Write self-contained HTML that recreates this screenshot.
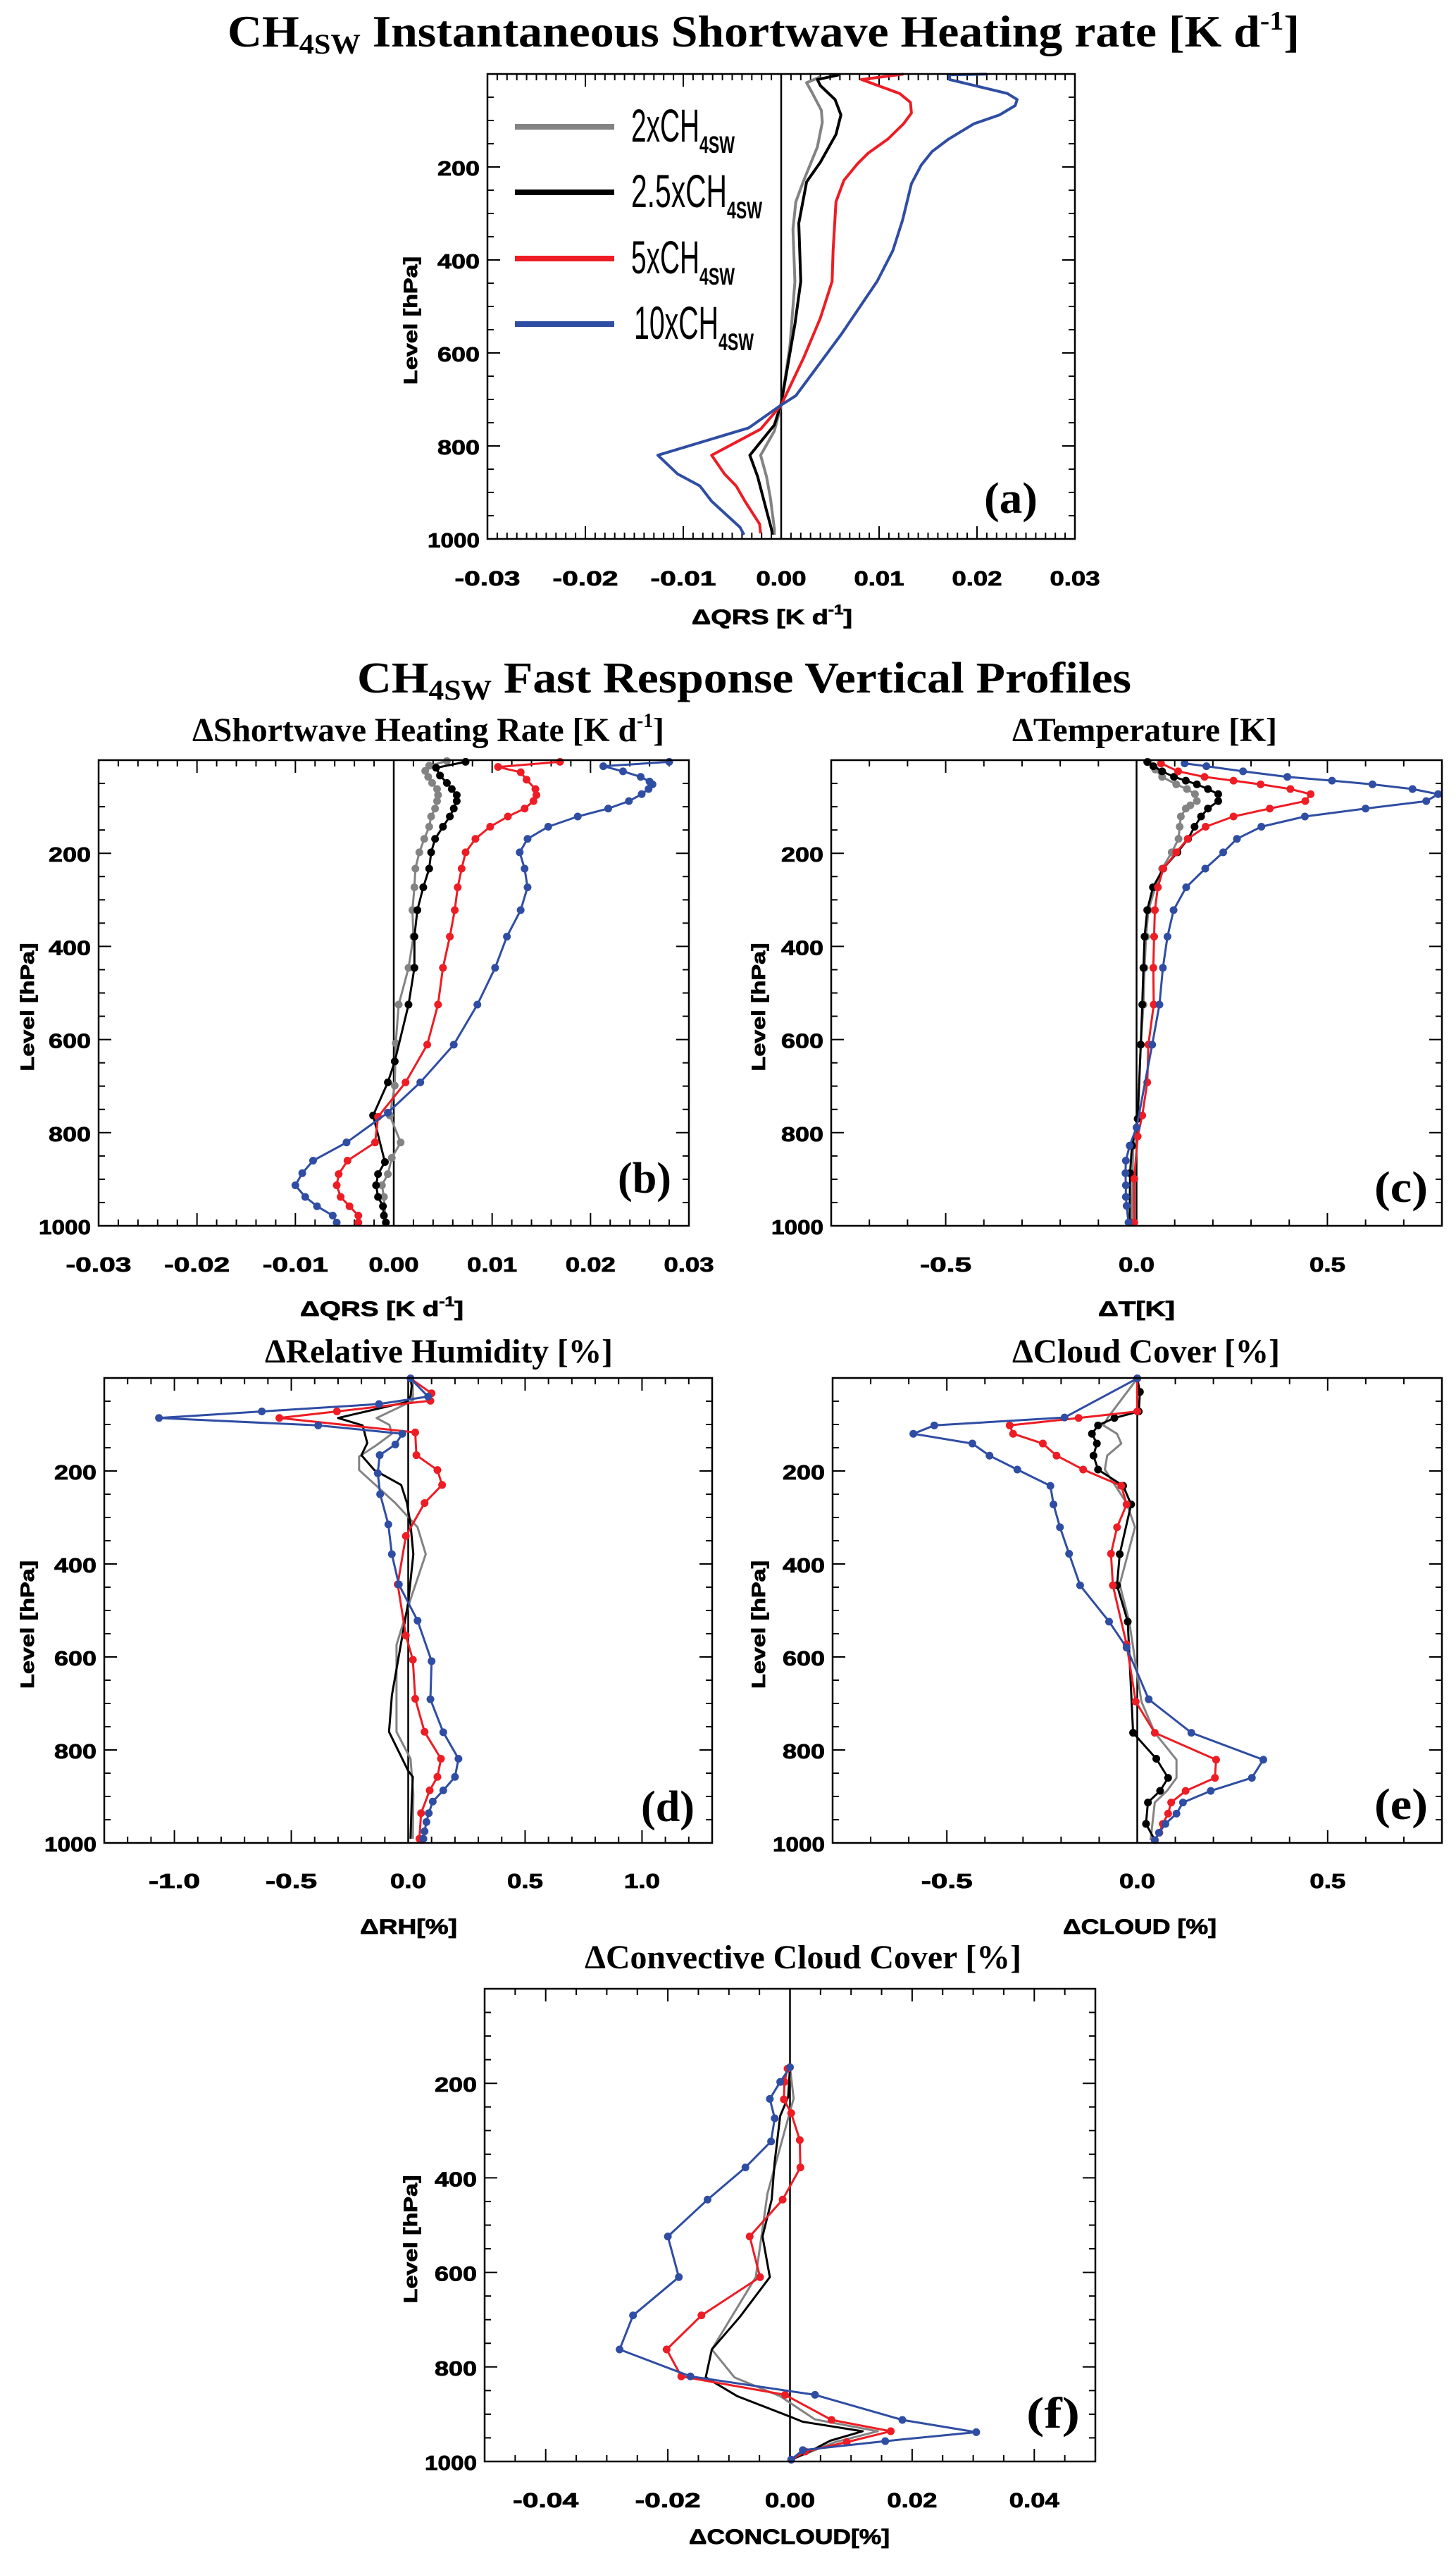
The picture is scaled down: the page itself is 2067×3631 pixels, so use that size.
<!DOCTYPE html>
<html>
<head>
<meta charset="utf-8">
<style>
html,body{margin:0;padding:0;background:#fff;}
svg{display:block;}
.ser{font-family:"Liberation Serif","DejaVu Serif",serif;font-weight:bold;fill:#000;}
.sans{font-family:"Liberation Sans","DejaVu Sans",sans-serif;font-weight:bold;fill:#000;stroke:#000;stroke-width:0.8;}
</style>
</head>
<body>
<svg id="fig" xmlns="http://www.w3.org/2000/svg" width="2067" height="3631" viewBox="0 0 2067 3631">
<rect x="0" y="0" width="2067" height="3631" fill="#fff"/>
<text class="ser" x="323" y="66" font-size="64" textLength="1522" lengthAdjust="spacingAndGlyphs">CH<tspan font-size="40" dy="10">4SW</tspan><tspan dy="-10"> Instantaneous Shortwave Heating rate [K d</tspan><tspan font-size="38" dy="-24">-1</tspan><tspan dy="24">]</tspan></text>
<text class="ser" x="507" y="983" font-size="62" textLength="1099" lengthAdjust="spacingAndGlyphs">CH<tspan font-size="40" dy="10">4SW</tspan><tspan dy="-10"> Fast Response Vertical Profiles</tspan></text>
<g id="legend"></g>
<g id="panels"></g>
</svg>
<script>
// ---------- DATA ----------
const seriesNames = ["2xCH4SW","2.5xCH4SW","5xCH4SW","10xCH4SW"];
// Panel (a): instantaneous SW heating rate [K/d]
const aP_grey = [6,19,38,78,104,157,229,275,334,446,584,712,768,820,866,912,978,991];
const aV_grey = [0.0040,0.0026,0.0031,0.0041,0.0042,0.0037,0.0023,0.0015,0.0012,0.0014,0.0009,0,-0.0007,-0.0021,-0.0015,-0.0011,-0.0007,-0.0007];
const aP_black = [2,12,25,55,88,130,190,232,321,446,538,709,755,820,866,939,978,991];
const aV_black = [0.0059,0.0037,0.0040,0.0055,0.0061,0.0056,0.0040,0.0026,0.0018,0.0020,0.0014,0,-0.0007,-0.0032,-0.0024,-0.0015,-0.0010,-0.0009];
const aP_red = [0.3,12,42,61,84,107,140,170,193,229,275,380,446,525,610,712,764,820,860,886,919,968,988];
const aV_red = [0.0125,0.0082,0.0121,0.0132,0.0133,0.0125,0.0109,0.0089,0.0078,0.0064,0.0056,0.0053,0.0052,0.0040,0.0023,0,-0.0021,-0.0071,-0.0058,-0.0046,-0.0037,-0.0022,-0.0021];
const aP_blue = [0.3,2,12,42,55,68,88,107,140,167,196,236,314,380,446,558,692,712,761,820,860,886,919,975,991];
const aV_blue = [0.0210,0.0172,0.0172,0.0231,0.0241,0.0239,0.0223,0.0197,0.0171,0.0154,0.0143,0.0133,0.0124,0.0114,0.0098,0.0062,0.0015,0,-0.0033,-0.0126,-0.0106,-0.0083,-0.0071,-0.0042,-0.0038];
// Panel (b): fast response dQRS [K/d]
const bP_grey = [2,12,23,36,49,62,75,88,104,121,143,169,198,233,273,322,379,446,525,608,699,763,821,854,889,913,938,993];
const bV_grey = [0.0054,0.0036,0.0032,0.0035,0.0039,0.0044,0.0045,0.0044,0.0042,0.0038,0.0036,0.0031,0.0026,0.0022,0.0021,0.0019,0.0020,0.0015,0.0005,0.0002,0.0001,-0.0004,0.0007,-0.0002,-0.0006,-0.0012,-0.0010,-0.0008];
const bP_black = [3.6,16.5,33,49,62,75,88,104,121,143,169,198,233,273,322,379,446,525,647,692,763,863,889,913,938,958,978,993];
const bV_black = [0.0073,0.0043,0.0047,0.0054,0.0059,0.0064,0.0064,0.0061,0.0057,0.0050,0.0042,0.0038,0.0036,0.0030,0.0024,0.0021,0.0021,0.0015,0.0001,-0.0006,-0.0021,-0.0009,-0.0016,-0.0018,-0.0016,-0.0011,-0.0010,-0.0008];
const bP_red = [3.6,14.6,26,42,62,75,88,104,121,143,169,198,233,273,322,379,446,525,611,692,766,821,860,889,913,938,958,978,993];
const bV_red = [0.0169,0.0106,0.0129,0.0135,0.0144,0.0145,0.0142,0.0133,0.0116,0.0098,0.0083,0.0073,0.0069,0.0065,0.0062,0.0057,0.0050,0.0045,0.0034,0.0012,-0.0016,-0.0019,-0.0047,-0.0056,-0.0058,-0.0054,-0.0045,-0.0036,-0.0036];
const bP_blue = [3.6,13,24,36,46,52,62,73,88,104,121,143,169,198,233,273,322,379,446,525,611,692,757,821,860,887,913,938,958,978,993];
const bV_blue = [0.0280,0.0213,0.0233,0.0251,0.0260,0.0263,0.0259,0.0252,0.0239,0.0218,0.0187,0.0157,0.0136,0.0128,0.0133,0.0136,0.0129,0.0115,0.0103,0.0085,0.0061,0.0027,-0.0006,-0.0048,-0.0082,-0.0093,-0.0100,-0.0090,-0.0078,-0.0062,-0.0058];
// Panel (c): dT [K]
const cP_grey = [4,20,36,52,62,73,88,97,104,121,143,169,198,233,273,322,379,446,525,611,770,828,993];
const cV_grey = [0.031,0.049,0.067,0.104,0.132,0.153,0.158,0.141,0.129,0.116,0.113,0.110,0.092,0.067,0.049,0.031,0.025,0.021,0.018,0.011,0.003,-0.009,-0.012];
const cP_black = [4,13,24,36,44,52,62,73,88,104,121,143,169,198,233,273,322,379,446,525,611,770,828,887,993];
const cV_black = [0.028,0.044,0.067,0.098,0.129,0.158,0.187,0.214,0.214,0.187,0.169,0.152,0.135,0.107,0.070,0.043,0.028,0.021,0.018,0.015,0.011,0.003,-0.012,-0.017,-0.018];
const cP_red = [7,24,36,44,52,62,73,88,104,121,143,169,198,233,273,322,379,446,525,611,692,763,808,899,993];
const cV_red = [0.064,0.109,0.178,0.254,0.325,0.403,0.456,0.442,0.349,0.254,0.181,0.134,0.104,0.070,0.056,0.048,0.046,0.044,0.045,0.031,0.028,0.015,0.003,-0.006,-0.006];
const cP_blue = [7,13,24,36,44,52,62,73,88,104,121,143,169,198,233,273,322,379,446,525,611,789,828,860,887,913,938,957,993];
const cV_blue = [0.126,0.183,0.279,0.395,0.512,0.618,0.723,0.790,0.759,0.600,0.441,0.327,0.263,0.227,0.180,0.130,0.097,0.081,0.069,0.060,0.041,0,-0.018,-0.028,-0.029,-0.028,-0.028,-0.026,-0.021];
// Panel (d): dRH [%]
const dP_grey = [4,49,86,101,120,146,169,198,269,321,379,476,574,761,819,897,991];
const dV_grey = [0.020,0.020,-0.135,-0.080,-0.070,-0.140,-0.210,-0.210,-0.055,0.040,0.075,0.010,-0.050,-0.050,0.010,0.022,0.020];
const dP_black = [1,17,40,52,72,86,102,140,166,198,230,269,315,379,483,683,761,845,858,910,991];
const dV_black = [0.010,0.015,0.010,-0.010,-0.180,-0.300,-0.195,-0.175,-0.200,-0.145,-0.030,-0.005,0.010,0.022,0,-0.070,-0.082,0,0.020,0.015,0.010];
const dP_red = [1,33,49,72,86,117,166,198,230,269,340,444,554,606,690,761,819,858,887,936,991];
const dV_red = [0.010,0.100,0.095,-0.305,-0.551,0.030,0.035,0.125,0.145,0.070,-0.010,-0.045,-0.010,0.020,0.030,0.070,0.140,0.125,0.092,0.055,0.048];
const dP_blue = [1,40,56,72,86,102,120,143,166,205,250,315,379,444,522,609,691,762,819,858,887,911,936,955,975,991];
const dV_blue = [0.010,0.085,-0.125,-0.626,-1.066,-0.385,-0.025,-0.055,-0.122,-0.130,-0.120,-0.085,-0.070,-0.040,0.040,0.100,0.095,0.150,0.215,0.200,0.150,0.105,0.088,0.078,0.070,0.065];
// Panel (e): dCLOUD [%]
const eP_grey = [1,86,102,120,141,167,197,269,321,444,524,696,763,821,860,888,913,994];
const eV_grey = [0,-0.078,-0.089,-0.053,-0.042,-0.079,-0.085,-0.028,-0.006,-0.046,-0.021,0.011,0.046,0.103,0.103,0.078,0.046,0.035];
const eP_black = [1,30,72,86,102,120,141,167,197,232,272,379,446,524,763,819,860,888,913,959,994];
const eV_black = [0,0.007,0.004,-0.060,-0.103,-0.119,-0.106,-0.115,-0.103,-0.037,-0.016,-0.046,-0.053,-0.025,-0.011,0.050,0.081,0.060,0.028,0.023,0.046];
const eP_red = [1,72,86,102,120,141,167,197,232,272,321,378,446,573,696,763,821,860,888,913,937,959,978,994];
const eV_red = [0,0,-0.154,-0.335,-0.326,-0.248,-0.212,-0.142,-0.042,-0.028,-0.053,-0.069,-0.064,-0.028,-0.004,0.046,0.207,0.204,0.127,0.089,0.081,0.067,0.058,0.046];
const eP_blue = [1,85,102,120,141,167,197,232,272,321,378,446,524,580,691,763,821,860,888,913,937,959,978,994];
const eV_blue = [0,-0.191,-0.533,-0.588,-0.433,-0.388,-0.315,-0.228,-0.220,-0.203,-0.179,-0.150,-0.074,-0.028,0.030,0.142,0.331,0.301,0.193,0.120,0.103,0.074,0.057,0.046];
// Panel (f): dCONCLOUD [%]
const fP_grey = [166,232,269,434,610,763,822,862,911,936,959,979,996];
const fV_grey = [0,0.0006,-0.0002,-0.0037,-0.0056,-0.0128,-0.0091,-0.0016,0.0041,0.0144,0.0074,0.0035,0.0002];
const fP_black = [166,229,269,366,446,524,610,694,763,822,862,905,916,936,956,977,996];
const fV_black = [0,-0.0003,-0.0016,-0.0025,-0.0030,-0.0045,-0.0033,-0.0082,-0.0128,-0.0138,-0.0086,0,0.0021,0.0119,0.0066,0.0035,0.0002];
const fP_red = [169,197,234,263,320,378,446,524,610,691,763,820,859,912,936,959,979,996];
const fV_red = [-0.0004,-0.0009,-0.0010,0.0002,0.0016,0.0017,-0.0012,-0.0066,-0.0049,-0.0145,-0.0202,-0.0178,-0.0008,0.0068,0.0165,0.0093,0.0025,0.0002];
const fP_blue = [166,197,233,274,323,378,446,524,610,691,763,820,859,912,938,957,976,996];
const fV_blue = [0,-0.0016,-0.0033,-0.0025,-0.0031,-0.0073,-0.0135,-0.0200,-0.0182,-0.0257,-0.0279,-0.0163,0.0041,0.0184,0.0305,0.0156,0.0021,0.0002];

const yTickLabels = ["200","400","600","800","1000"];
const aXTickLabels = ["-0.03","-0.02","-0.01","0.00","0.01","0.02","0.03"];
const cXTickLabels = ["-0.5","0.0","0.5"];
const dXTickLabels = ["-1.0","-0.5","0.0","0.5","1.0"];
const fXTickLabels = ["-0.04","-0.02","0.00","0.02","0.04"];

// ---------- RENDERING ----------
const NS = "http://www.w3.org/2000/svg";
const svg = document.getElementById("fig");
const COLORS = ["#838383","#000000","#ee1c24","#2f4da3"];
function mk(tag, attrs, parent){
  const e = document.createElementNS(NS, tag);
  for (const k in attrs) e.setAttribute(k, attrs[k]);
  (parent||svg).appendChild(e);
  return e;
}
function labelWidth(s){
  let w=0; for (const ch of s){ w += ch==='.'?11:(ch==='-'?22:20); } return w;
}

const panels = [
 {id:"a", L:692,R:1526,T:105,B:765, xmin:-0.03,xmax:0.03, major:0.01, minor:0.001, labels:aXTickLabels, markers:[false,false,false,false], lw:4,
  data:[[aP_grey,aV_grey],[aP_black,aV_black],[aP_red,aV_red],[aP_blue,aV_blue]],
  xtitle:["ΔQRS [K d","-1","]"], xtitleX:982, xtitleW:228, tag:"(a)", tagX:1397, tagY:728, ylabX:592, labY:831, titY:886},
 {id:"b", L:140,R:978,T:1079,B:1740, xmin:-0.03,xmax:0.03, major:0.01, minor:0.002, labels:aXTickLabels, markers:[true,true,true,true], lw:3,
  data:[[bP_grey,bV_grey],[bP_black,bV_black],[bP_red,bV_red],[bP_blue,bV_blue]],
  sub:"ΔShortwave Heating Rate [K d", subSup:"-1", subEnd:"]", subX:273, subW:670, subY:1052,
  xtitle:["ΔQRS [K d","-1","]"], xtitleX:426, xtitleW:232, tag:"(b)", tagX:877, tagY:1693, ylabX:48, labY:1805, titY:1868},
 {id:"c", L:1180,R:2047,T:1079,B:1740, xmin:-0.8,xmax:0.8, major:0.5, minor:0.1, labels:cXTickLabels, markers:[true,true,true,true], lw:3,
  data:[[cP_grey,cV_grey],[cP_black,cV_black],[cP_red,cV_red],[cP_blue,cV_blue]],
  sub:"ΔTemperature [K]", subX:1437, subW:376, subY:1052,
  xtitle:["ΔT[K]"], xtitleX:1559, xtitleW:109, tag:"(c)", tagX:1951, tagY:1706, ylabX:1086, labY:1805, titY:1868},
 {id:"d", L:148,R:1011,T:1956,B:2616, xmin:-1.3,xmax:1.3, major:0.5, minor:0.1, labels:dXTickLabels, markers:[false,false,true,true], lw:3,
  data:[[dP_grey,dV_grey],[dP_black,dV_black],[dP_red,dV_red],[dP_blue,dV_blue]],
  sub:"ΔRelative Humidity [%]", subX:376, subW:494, subY:1934,
  xtitle:["ΔRH[%]"], xtitleX:511, xtitleW:138, tag:"(d)", tagX:910, tagY:2585, ylabX:48, labY:2680, titY:2745},
 {id:"e", L:1182,R:2047,T:1956,B:2616, xmin:-0.8,xmax:0.8, major:0.5, minor:0.1, labels:cXTickLabels, markers:[false,true,true,true], lw:3,
  data:[[eP_grey,eV_grey],[eP_black,eV_black],[eP_red,eV_red],[eP_blue,eV_blue]],
  sub:"ΔCloud Cover [%]", subX:1437, subW:380, subY:1934,
  xtitle:["ΔCLOUD [%]"], xtitleX:1509, xtitleW:218, tag:"(e)", tagX:1951, tagY:2582, ylabX:1086, labY:2680, titY:2745},
 {id:"f", L:688,R:1555,T:2823,B:3494, xmin:-0.05,xmax:0.05, major:0.02, minor:0.005, labels:fXTickLabels, markers:[false,false,true,true], lw:3,
  data:[[fP_grey,fV_grey],[fP_black,fV_black],[fP_red,fV_red],[fP_blue,fV_blue]],
  sub:"ΔConvective Cloud Cover [%]", subX:830, subW:620, subY:2794,
  xtitle:["ΔCONCLOUD[%]"], xtitleX:978, xtitleW:285, tag:"(f)", tagX:1457, tagY:3446, ylabX:592, labY:3559, titY:3611}
];

const root = document.getElementById("panels");
panels.forEach(pn=>{
  const g = mk("g", {}, root);
  
  
  const sx = v => pn.L + (v - pn.xmin) / (pn.xmax - pn.xmin) * (pn.R - pn.L);
  const sy = p => pn.T + p / 1000 * (pn.B - pn.T);

  if (pn.sub){
    const t = mk("text", {class:"ser", x:pn.subX, y:pn.subY, "font-size":48, textLength:pn.subW, lengthAdjust:"spacingAndGlyphs"}, g);
    
    
    t.appendChild(document.createTextNode(pn.sub));
    if (pn.subSup){
      const s1 = mk("tspan", {"font-size":28, dy:-20}, t); s1.textContent = pn.subSup;
      const s2 = mk("tspan", {dy:20}, t); s2.textContent = pn.subEnd;
    }
  }

  // ticks
  const tk = mk("g", {stroke:"#000","stroke-width":2}, g);
  
  
  const start = Math.ceil(pn.xmin / pn.minor - 1e-6);
  for (let i = start; i * pn.minor <= pn.xmax + 1e-9; i++){
    const v = i * pn.minor;
    const isMaj = Math.abs(v / pn.major - Math.round(v / pn.major)) < 1e-6;
    const len = isMaj ? 18 : 9;
    const x = sx(v);
    mk("line", {x1:x, y1:pn.B, x2:x, y2:pn.B - len}, tk);
    mk("line", {x1:x, y1:pn.T, x2:x, y2:pn.T + len}, tk);
  }
  for (let p = 50; p < 1000; p += 50){
    const len = (p % 200 === 0) ? 18 : 9;
    const y = sy(p);
    mk("line", {x1:pn.L, y1:y, x2:pn.L + len, y2:y}, tk);
    mk("line", {x1:pn.R, y1:y, x2:pn.R - len, y2:y}, tk);
  }

  // x tick labels
  pn.labels.forEach(lab=>{
    const v = parseFloat(lab);
    const w = labelWidth(lab);
    const t = mk("text", {class:"sans", x:sx(v) - w/2, y:pn.labY, "font-size":29, textLength:w, lengthAdjust:"spacingAndGlyphs"}, g);
    
    
    t.textContent = lab;
  });
  // y tick labels
  yTickLabels.forEach(lab=>{
    const p = parseFloat(lab);
    const w = labelWidth(lab) - (lab.length > 3 ? 6 : 0);
    const t = mk("text", {class:"sans", x:pn.L - 11 - w, y:sy(p) + 12, "font-size":29, textLength:w, lengthAdjust:"spacingAndGlyphs"}, g);
    
    
    t.textContent = lab;
  });
  // y axis title
  const cy = (pn.T + pn.B) / 2 + 20;
  const yt = mk("text", {class:"sans", x:0, y:0, "font-size":27, textLength:182, lengthAdjust:"spacingAndGlyphs",
    transform:`translate(${pn.ylabX},${cy + 91}) rotate(-90)`}, g);
  
  
  yt.textContent = "Level [hPa]";
  // x axis title
  const xt = mk("text", {class:"sans", x:pn.xtitleX, y:pn.titY, "font-size":30, textLength:pn.xtitleW, lengthAdjust:"spacingAndGlyphs"}, g);
  
  
  xt.appendChild(document.createTextNode(pn.xtitle[0]));
  if (pn.xtitle.length > 1){
    const s1 = mk("tspan", {"font-size":19, dy:-14}, xt); s1.textContent = pn.xtitle[1];
    const s2 = mk("tspan", {dy:14}, xt); s2.textContent = pn.xtitle[2];
  }

  // zero line
  const zl = mk("line", {x1:sx(0), y1:pn.T, x2:sx(0), y2:pn.B, stroke:"#000", "stroke-width":2.5}, g);
  
  

  // series
  pn.data.forEach((d, si)=>{
    const P = d[0], V = d[1];
    const pts = P.map((p,i)=> sx(V[i]).toFixed(1) + "," + sy(p).toFixed(1)).join(" ");
    const sg = mk("g", {}, g);
    
    
    mk("polyline", {points:pts, fill:"none", stroke:COLORS[si], "stroke-width":pn.lw, "stroke-linejoin":"round"}, sg);
    if (pn.markers[si]){
      P.forEach((p,i)=>{
        const c = mk("circle", {cx:sx(V[i]), cy:sy(p), r:5.5, fill:COLORS[si]}, sg);
        
        
      });
    }
  });

  // frame
  const fr = mk("rect", {x:pn.L, y:pn.T, width:pn.R - pn.L, height:pn.B - pn.T, fill:"none", stroke:"#000", "stroke-width":2.5}, g);
  
  

  // panel tag
  const tg = mk("text", {class:"ser", x:pn.tagX, y:pn.tagY, "font-size":62, textLength:76, lengthAdjust:"spacingAndGlyphs"}, g);
  
  
  tg.textContent = pn.tag;
});

// legend in panel (a)
const legendY = [180,273,367,460];
const legendMain = ["2xCH","2.5xCH","5xCH","10xCH"];
const legendMainW = [97,136,97,120];
const legendX0 = [896,896,896,900];
const lg = document.getElementById("legend");
svg.appendChild(lg);
legendMain.forEach((m,i)=>{
  const e = mk("g", {}, lg);
  
  
  mk("line", {x1:731, y1:legendY[i], x2:872, y2:legendY[i], stroke:COLORS[i], "stroke-width":8}, e);
  const t = mk("text", {x:legendX0[i], y:legendY[i] + 21, "font-size":66, textLength:legendMainW[i], lengthAdjust:"spacingAndGlyphs",
    "font-family":"Liberation Sans, DejaVu Sans, sans-serif", fill:"#000"}, e);
  t.textContent = m;
  const s = mk("text", {x:legendX0[i] + legendMainW[i], y:legendY[i] + 37, "font-size":34, "font-weight":"bold", textLength:50, lengthAdjust:"spacingAndGlyphs",
    "font-family":"Liberation Sans, DejaVu Sans, sans-serif", fill:"#000"}, e);
  s.textContent = "4SW";
});
</script>
</body>
</html>
